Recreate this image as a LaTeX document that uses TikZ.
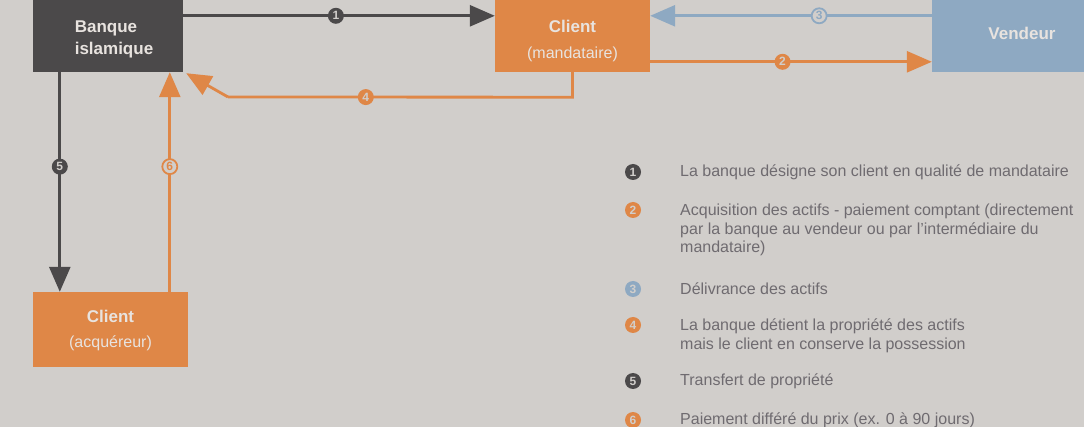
\documentclass[tikz,border=0pt]{standalone}
\usepackage{fontspec}
\setmainfont{Liberation Sans}
\usetikzlibrary{arrows.meta,calc}

\definecolor{bgc}{HTML}{D1CECB}
\definecolor{darkc}{HTML}{4B494A}
\definecolor{orangec}{HTML}{DF8747}
\definecolor{bluec}{HTML}{8EA9C2}
\definecolor{boxtext}{HTML}{E8E3DF}
\definecolor{legtext}{HTML}{6F6B70}

\tikzset{
  box/.style={draw=none, fill=#1, inner sep=0pt},
  boxlbl/.style={text=boxtext, align=center, inner sep=0pt,
    font=\fontsize{16}{26}\selectfont},
  flow/.style={line width=2.8pt, draw=#1, -{Triangle[length=25pt,width=21pt]}},
  numfill/.style={circle, fill=#1, text=bgc, inner sep=0pt, minimum size=16pt,
    font=\fontsize{12}{12}\selectfont\bfseries},
  numring/.style={circle, fill=bgc, draw=#1, line width=1.8pt, text=#1, inner sep=0pt,
    minimum size=15pt, font=\fontsize{12}{12}\selectfont\bfseries},
  legend/.style={anchor=west, align=left, text=legtext, inner sep=0pt,
    font=\fontsize{16}{18.5}\selectfont},
}

\begin{document}
\begin{tikzpicture}[x=1pt, y=-1pt]
  \useasboundingbox (0,0) rectangle (1084,427);
  \clip (0,0) rectangle (1084,427);
  \fill[bgc] (0,0) rectangle (1084,427);

  % parties
  \node[box=darkc, minimum width=150pt, minimum height=72pt,
    label={[boxlbl, align=left, font=\fontsize{17}{22}\selectfont\bfseries, yshift=-3pt, xshift=6pt]center:Banque\\islamique}]
    (bank) at (108,36) {};
  \node[box=orangec, minimum width=155pt, minimum height=72pt,
    label={[boxlbl, yshift=-5pt]center:{\fontsize{17}{22}\selectfont\bfseries Client}\\(mandataire)}]
    (cm) at (572.5,36) {};
  \node[box=bluec, minimum width=180pt, minimum height=72pt,
    label={[boxlbl, font=\fontsize{17}{22}\selectfont\bfseries, yshift=3pt]center:Vendeur}]
    (seller) at (1022,36) {};
  \node[box=orangec, minimum width=155pt, minimum height=75pt,
    label={[boxlbl, font=\fontsize{16}{25}\selectfont, yshift=-1pt]center:{\fontsize{17}{22}\selectfont\bfseries Client}\\(acquéreur)}]
    (ca) at (110.5,329.5) {};

  % flows between parties
  \draw[flow=darkc] ($(bank.north east)+(0,16)$) -- ($(cm.north west)+(0,16)$)
    node[numfill=darkc, pos=0.49] (n1) {1};
  \draw[flow=bluec] ($(seller.north west)+(0,16)$) -- ($(cm.north east)+(0,16)$)
    node[numring=bluec, pos=0.40] (n3) {3};
  \draw[flow=orangec] ($(cm.north east)+(0,62)$) -- ($(seller.north west)+(0,62)$)
    node[numfill=orangec, pos=0.47] (n2) {2};
  \coordinate (c4a) at ($(cm.south)+(0,25)$);
  \coordinate (c4b) at (228,97);
  \draw[flow=orangec, -] (cm.south) -- (c4a) -- (c4b)
    node[numfill=orangec, pos=0.6] (n4) {4};
  \draw[flow=orangec] (c4b) -- ($(bank.south east)+(3,1)$);
  \draw[flow=darkc] ($(bank.south west)+(27,0)$) -- ($(ca.north west)+(27,0)$)
    node[numfill=darkc, pos=0.43] (n5) {5};
  \draw[flow=orangec] ($(ca.north west)+(137,0)$) -- ($(bank.south west)+(137,0)$)
    node[numring=orangec, pos=0.57] (n6) {6};

  % legend
  \node[numfill=darkc] (l1) at (633,172) {1};
  \node[legend] (t1) at (680,172) {La banque désigne son client en qualité de mandataire};
  \node[numfill=orangec] (l2) at (633,210) {2};
  \node[legend, anchor=north west] (t2) at (680,204)
    {Acquisition des actifs - paiement comptant (directement\\par la banque au vendeur ou par l'intermédiaire du\\mandataire)};
  \node[numfill=bluec] (l3) at (633,289) {3};
  \node[legend] (t3) at (680,289) {Délivrance des actifs};
  \node[numfill=orangec] (l4) at (633,325) {4};
  \node[legend, anchor=north west] (t4) at (680,319)
    {La banque détient la propriété des actifs\\mais le client en conserve la possession};
  \node[numfill=darkc] (l5) at (633,381) {5};
  \node[legend] (t5) at (680,381) {Transfert de propriété};
  \node[numfill=orangec] (l6) at (633,420) {6};
  \node[legend] (t6) at (680,420) {Paiement différé du prix (ex. 0 à 90 jours)};
\end{tikzpicture}
\end{document}
